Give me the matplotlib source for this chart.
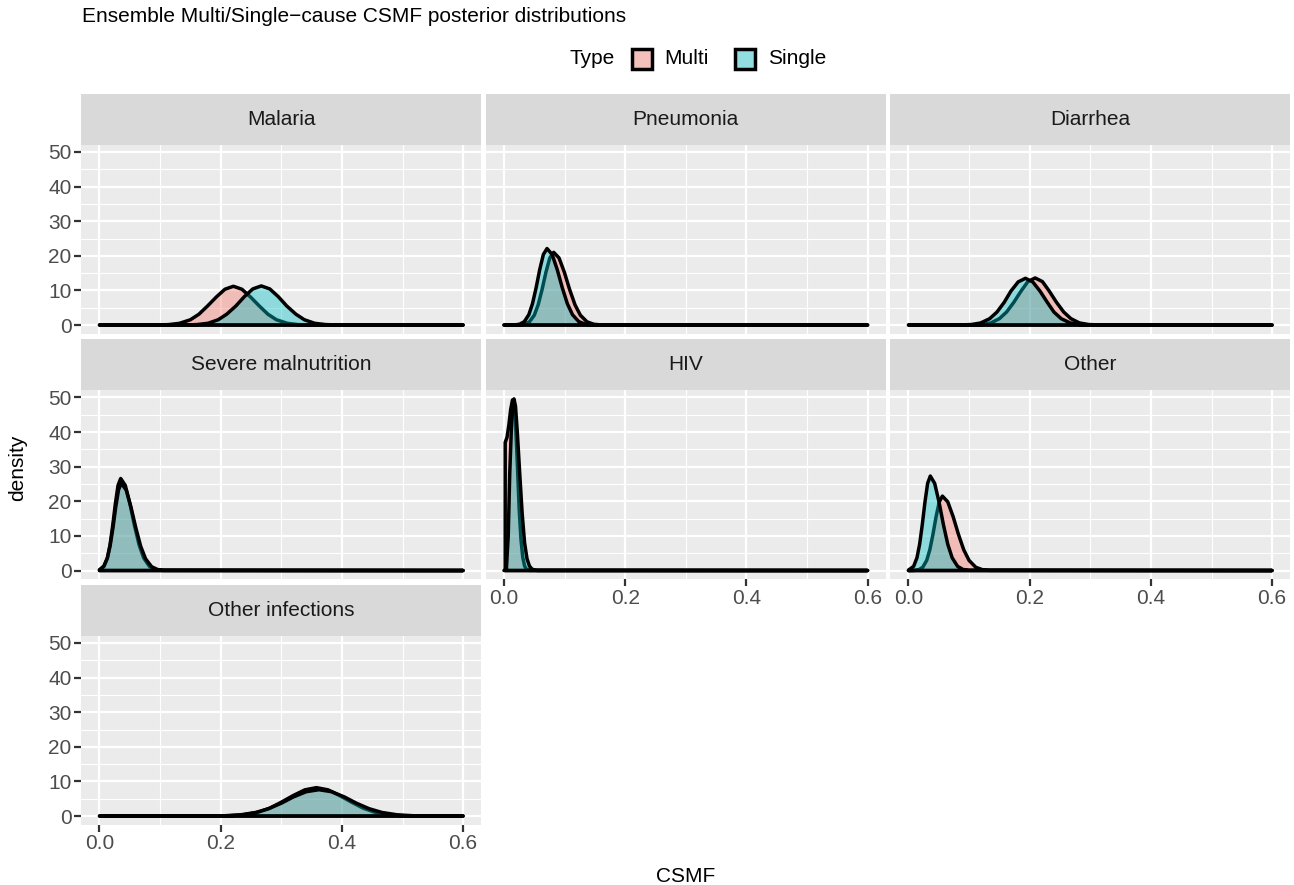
import numpy as np
import matplotlib
matplotlib.use('Agg')
import matplotlib.pyplot as plt
from matplotlib.patches import Rectangle

plt.rcParams['font.family'] = ['Liberation Sans', 'DejaVu Sans']

# density curves (x = CSMF, y = density)
malaria_multi_x = [0.0, 0.096, 0.114, 0.132, 0.150, 0.164, 0.178, 0.193, 0.207, 0.221, 0.235, 0.249, 0.264, 0.278, 0.292, 0.310, 0.328, 0.346, 0.6]
malaria_multi_y = [0.0, 0.02, 0.12, 0.49, 1.52, 3.11, 5.45, 8.13, 10.34, 11.2, 10.34, 8.13, 5.45, 3.11, 1.52, 0.49, 0.12, 0.02, 0.0]
malaria_single_x = [0.0, 0.143, 0.161, 0.179, 0.196, 0.210, 0.225, 0.239, 0.253, 0.267, 0.281, 0.295, 0.309, 0.324, 0.338, 0.355, 0.373, 0.391, 0.6]
malaria_single_y = [0.0, 0.02, 0.13, 0.50, 1.53, 3.14, 5.50, 8.20, 10.43, 11.3, 10.43, 8.20, 5.50, 3.14, 1.53, 0.50, 0.13, 0.02, 0.0]

pneumonia_multi_x = [0.0, 0.026, 0.034, 0.042, 0.050, 0.0564, 0.0628, 0.0692, 0.0756, 0.082, 0.0908, 0.0996, 0.1084, 0.1172, 0.126, 0.137, 0.148, 0.159, 0.6]
pneumonia_multi_y = [0.0, 0.05, 0.23, 0.92, 2.84, 5.84, 10.22, 15.25, 19.39, 21.0, 19.39, 15.25, 10.22, 5.84, 2.84, 0.92, 0.23, 0.05, 0.0]
pneumonia_single_x = [0.0, 0.0185, 0.026, 0.0335, 0.041, 0.047, 0.053, 0.059, 0.065, 0.071, 0.0794, 0.0878, 0.0962, 0.1046, 0.113, 0.1235, 0.134, 0.1445, 0.6]
pneumonia_single_y = [0.0, 0.04, 0.25, 0.97, 2.99, 6.14, 10.76, 16.05, 20.4, 22.1, 20.4, 16.05, 10.76, 6.14, 2.99, 0.97, 0.25, 0.04, 0.0]

diarrhea_multi_x = [0.0, 0.106, 0.121, 0.136, 0.150, 0.162, 0.174, 0.186, 0.197, 0.209, 0.221, 0.232, 0.244, 0.256, 0.268, 0.282, 0.297, 0.312, 0.6]
diarrhea_multi_y = [0.0, 0.03, 0.15, 0.60, 1.84, 3.78, 6.62, 9.87, 12.55, 13.6, 12.55, 9.87, 6.62, 3.78, 1.84, 0.60, 0.15, 0.03, 0.0]
diarrhea_single_x = [0.0, 0.089, 0.104, 0.119, 0.134, 0.146, 0.158, 0.169, 0.181, 0.193, 0.205, 0.217, 0.229, 0.240, 0.252, 0.267, 0.282, 0.297, 0.6]
diarrhea_single_y = [0.0, 0.03, 0.15, 0.59, 1.83, 3.75, 6.57, 9.80, 12.46, 13.5, 12.46, 9.80, 6.57, 3.75, 1.83, 0.59, 0.15, 0.03, 0.0]

malnut_multi_x = [0.0, 0.0075, 0.013, 0.0174, 0.0218, 0.0262, 0.0306, 0.035, 0.0426, 0.0502, 0.0578, 0.0654, 0.073, 0.0825, 0.092, 0.1015, 0.6]
malnut_multi_y = [0.16, 1.17, 3.6, 7.4, 12.95, 19.3, 24.6, 26.6, 24.6, 19.3, 12.95, 7.4, 3.6, 1.17, 0.30, 0.06, 0.0]
malnut_single_x = [0.0, 0.0072, 0.013, 0.0176, 0.0222, 0.0268, 0.0314, 0.036, 0.044, 0.052, 0.060, 0.068, 0.076, 0.086, 0.096, 0.106, 0.6]
malnut_single_y = [0.2, 1.3, 3.6, 7.2, 12.3, 18.3, 23.3, 25.2, 23.3, 18.3, 12.3, 7.0, 3.4, 1.1, 0.28, 0.05, 0.0]

hiv_multi_x = [0.002, 0.002, 0.005, 0.008, 0.011, 0.014, 0.016, 0.019, 0.022, 0.025, 0.028, 0.031, 0.034, 0.037, 0.041, 0.6]
hiv_multi_y = [0.0, 37.0, 38.5, 42.0, 46.5, 49.3, 49.0, 43.0, 31.0, 18.0, 9.0, 3.8, 1.3, 0.4, 0.05, 0.0]
hiv_single_x = [0.0, 0.004, 0.007, 0.0095, 0.012, 0.014, 0.0165, 0.019, 0.022, 0.026, 0.030, 0.034, 0.038, 0.042, 0.046, 0.050, 0.055, 0.6]
hiv_single_y = [0.0, 0.5, 10.0, 28.0, 40.0, 46.5, 49.6, 47.5, 40.0, 28.0, 16.5, 8.0, 3.4, 1.3, 0.45, 0.15, 0.03, 0.0]

other_multi_x = [0.0, 0.0105, 0.017, 0.0235, 0.030, 0.0352, 0.0404, 0.0456, 0.0508, 0.056, 0.0648, 0.0736, 0.0824, 0.0912, 0.100, 0.111, 0.122, 0.133, 0.6]
other_multi_y = [0.0, 0.05, 0.24, 0.94, 2.91, 5.98, 10.47, 15.61, 19.85, 21.5, 19.85, 15.61, 10.47, 5.98, 2.91, 0.94, 0.24, 0.05, 0.0]
other_single_x = [0.0, 0.0085, 0.014, 0.0184, 0.0228, 0.0272, 0.0316, 0.036, 0.0432, 0.0504, 0.0576, 0.0648, 0.072, 0.081, 0.090, 0.099, 0.6]
other_single_y = [0.13, 1.2, 3.7, 7.6, 13.3, 19.8, 25.2, 27.3, 25.2, 19.8, 13.3, 7.6, 3.7, 1.2, 0.3, 0.06, 0.0]

othinf_multi_x = [0.0, 0.190, 0.214, 0.238, 0.262, 0.281, 0.300, 0.320, 0.339, 0.358, 0.377, 0.396, 0.416, 0.435, 0.454, 0.478, 0.502, 0.526, 0.6]
othinf_multi_y = [0.0, 0.02, 0.09, 0.36, 1.11, 2.28, 3.99, 5.95, 7.57, 8.2, 7.57, 5.95, 3.99, 2.28, 1.11, 0.36, 0.09, 0.02, 0.0]
othinf_single_x = [0.0, 0.180, 0.206, 0.232, 0.258, 0.279, 0.300, 0.320, 0.341, 0.362, 0.383, 0.404, 0.424, 0.445, 0.466, 0.492, 0.518, 0.544, 0.6]
othinf_single_y = [0.0, 0.02, 0.08, 0.33, 1.03, 2.11, 3.70, 5.52, 7.02, 7.6, 7.02, 5.52, 3.70, 2.11, 1.03, 0.33, 0.08, 0.02, 0.0]

causes = ['Malaria', 'Pneumonia', 'Diarrhea', 'Severe malnutrition', 'HIV', 'Other', 'Other infections']
curves = [
    (malaria_multi_x, malaria_multi_y, malaria_single_x, malaria_single_y),
    (pneumonia_multi_x, pneumonia_multi_y, pneumonia_single_x, pneumonia_single_y),
    (diarrhea_multi_x, diarrhea_multi_y, diarrhea_single_x, diarrhea_single_y),
    (malnut_multi_x, malnut_multi_y, malnut_single_x, malnut_single_y),
    (hiv_multi_x, hiv_multi_y, hiv_single_x, hiv_single_y),
    (other_multi_x, other_multi_y, other_single_x, other_single_y),
    (othinf_multi_x, othinf_multi_y, othinf_single_x, othinf_single_y),
]
types = ['Multi', 'Single']
x_ticks = [0.0, 0.2, 0.4, 0.6]
y_ticks = [0, 10, 20, 30, 40, 50]

multi_col = (248/255, 118/255, 109/255, 0.4)
single_col = (0/255, 191/255, 196/255, 0.4)

W, H = 1294, 885
fig = plt.figure(figsize=(W/100, H/100), dpi=100)

def px_axes(left, top, w, h):
    return fig.add_axes([left/W, 1-(top+h)/H, w/W, h/H])

ymax = max(max(c[1] + c[3]) for c in curves)
ylim = (-0.05*ymax, 1.05*ymax)
xlim = (-0.03, 0.63)

col_left = [81.3, 485.8, 890.3]
row_top = [144.8, 390.3, 635.8]
pw, ph = 400.0, 188.8
strip_h = 51.0

for i, name in enumerate(causes):
    r, c = divmod(i, 3)
    ax = px_axes(col_left[c], row_top[r], pw, ph)
    ax.set_facecolor('#EBEBEB')
    ax.set_xlim(xlim)
    ax.set_ylim(ylim)
    ax.set_xticks(x_ticks)
    ax.set_yticks(y_ticks)
    ax.set_xticks([0.1, 0.3, 0.5], minor=True)
    ax.set_yticks([5, 15, 25, 35, 45], minor=True)
    ax.grid(which='major', color='white', lw=1.6)
    ax.grid(which='minor', color='white', lw=0.8)
    ax.set_axisbelow(True)
    for s in ax.spines.values():
        s.set_visible(False)

    mx, my, sx, sy = curves[i]
    for xs, ys, col in [(mx, my, multi_col), (sx, sy, single_col)]:
        px = list(xs) + [xs[-1], xs[0]]
        py = list(ys) + [0.0, 0.0]
        ax.fill(px, py, facecolor=col, edgecolor='black', lw=2.5, joinstyle='round')

    ax.tick_params(which='minor', length=0)
    ax.tick_params(which='major', length=5, width=1.6, color='#333333',
                   labelsize=15, labelcolor='#4D4D4D', pad=2)
    ax.set_xticklabels(['%.1f' % t for t in x_ticks])
    if c != 0:
        ax.tick_params(axis='y', left=False, labelleft=False)
    bottom_row = (r == 2) or (c > 0 and r == 1)
    if not bottom_row:
        ax.tick_params(axis='x', bottom=False, labelbottom=False)

    sax = px_axes(col_left[c], row_top[r]-strip_h, pw, strip_h)
    sax.set_facecolor('#D9D9D9')
    sax.set_xticks([])
    sax.set_yticks([])
    for s in sax.spines.values():
        s.set_visible(False)
    sax.text(0.5, 0.5, name, ha='center', va='center', fontsize=15, color='#1A1A1A',
             transform=sax.transAxes)

# titles
fig.text(82/W, 1-17/H, 'Ensemble Multi/Single\u2212cause CSMF posterior distributions',
         fontsize=15, color='black', ha='left', va='center')
fig.text(686/W, 1-876/H, 'CSMF', fontsize=15, ha='center', va='center')
fig.text(18/W, 1-468/H, 'density', fontsize=15, ha='center', va='center', rotation=90)

# legend
ly = 59
fig.text(570/W, 1-ly/H, 'Type', fontsize=15, ha='left', va='center')
for bx, tx, lab, col in [(632, 664, types[0], multi_col), (735, 768, types[1], single_col)]:
    fig.patches.append(Rectangle((bx/W, 1-(ly+10)/H), 20/W, 20/H, transform=fig.transFigure,
                                 facecolor='#F2F2F2', edgecolor='none'))
    fig.patches.append(Rectangle((bx/W, 1-(ly+10)/H), 20/W, 20/H, transform=fig.transFigure,
                                 facecolor=col, edgecolor='black', lw=2.5))
    fig.text(tx/W, 1-ly/H, lab, fontsize=15, ha='left', va='center')

plt.savefig('out.png', dpi=100)
